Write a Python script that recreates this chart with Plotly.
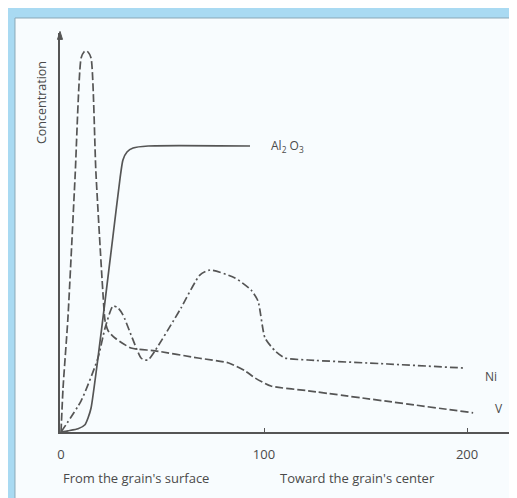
import plotly.graph_objects as go

# ---- data (x = depth, y = relative concentration) ----
v_x = [0, 1.0, 3.4, 6.9, 9.9, 11.3, 12.3, 13.3, 14.8, 17.2, 20.7, 21.7, 23.2, 26.6, 34.5, 46.3, 67.5, 82.3, 90.6, 95.6, 103.4, 121.7, 203]
v_y = [0, 11, 28.5, 63.5, 93.5, 95, 95.3, 95, 93.5, 64.8, 34.3, 27.8, 25.3, 23.5, 21, 20.3, 18.5, 17.3, 15.3, 13.5, 11.5, 10.3, 4.8]

al_x = [0, 3.4, 8.4, 11.8, 13.3, 14.8, 18.2, 21.7, 25.6, 29.1, 30.5, 32.5, 35.5, 42.9, 93.1]
al_y = [0, 0.3, 0.8, 1.8, 3.5, 6, 18.5, 32.8, 49, 63.5, 68, 70, 71, 71.5, 71.5]

ni_x = [0, 9.9, 18.2, 21.7, 25.6, 28.1, 30.5, 39.4, 41.4, 42.9, 46.3, 56.2, 59.1, 68.5, 73.4, 85.7, 93.6, 97, 100.5, 105.4, 110.3, 121.7, 161, 198]
ni_y = [0, 7.8, 18.5, 26, 31.5, 31, 29.3, 18.5, 18, 18, 20.3, 28.5, 31, 39.3, 40.5, 38.5, 35.5, 32.8, 23.5, 20.3, 18.5, 18, 17, 16]

tick_vals = [0, 100, 200]
tick_text = ["0", "100", "200"]

series_labels = ["Al<sub>2</sub> O<sub>3</sub>", "Ni", "V"]
label_x = [111.8, 211.8, 215.8]
label_y = [71.5, 14, 6]

LINE = "#555555"
TEXT = "#4a4a4a"
FONT = "Open Sans"

fig = go.Figure()
fig.add_trace(go.Scatter(x=al_x, y=al_y, mode="lines", name="Al2O3",
                         line=dict(color=LINE, width=1.7, shape="spline", smoothing=0.6)))
fig.add_trace(go.Scatter(x=v_x, y=v_y, mode="lines", name="V",
                         line=dict(color=LINE, width=1.7, dash="8px,3px", shape="spline", smoothing=0.6)))
fig.add_trace(go.Scatter(x=ni_x, y=ni_y, mode="lines", name="Ni",
                         line=dict(color=LINE, width=1.7, dash="8px,3px,2px,3px", shape="spline", smoothing=0.6)))

annotations = []
for t, lx, ly in zip(series_labels, label_x, label_y):
    annotations.append(dict(x=lx, y=ly, xref="x", yref="y", text=t, showarrow=False,
                            xanchor="center", yanchor="middle",
                            font=dict(family=FONT, size=12, color=TEXT)))

annotations += [
    dict(x=-0.0415, y=0.827, xref="paper", yref="paper", text="Concentration", textangle=-90,
         xanchor="center", yanchor="middle",
         showarrow=False, font=dict(family=FONT, size=12.5, color=TEXT)),
    dict(x=0.002, y=-0.115, xref="paper", yref="paper", text="From the grain's surface",
         xanchor="left", yanchor="middle", showarrow=False, font=dict(family=FONT, size=13, color=TEXT)),
    dict(x=0.476, y=-0.115, xref="paper", yref="paper", text="Toward the grain's center",
         xanchor="left", yanchor="middle", showarrow=False, font=dict(family=FONT, size=13, color=TEXT)),
]

shapes = [
    dict(type="rect", xref="paper", yref="paper", x0=-0.0983, x1=1.02, y0=-0.19, y1=1.0376,
         fillcolor="#f8fcfe", line=dict(color="#8aa8b8", width=1), layer="below"),
    # small arrow heads at the axis ends
    dict(type="path", xref="paper", yref="paper",
         path="M -0.0055,0.984 L 0,1.004 L 0.0055,0.984 Z",
         fillcolor=LINE, line=dict(color=LINE, width=1)),
    dict(type="path", xref="paper", yref="paper",
         path="M 0.985,-0.0065 L 1.004,0 L 0.985,0.0065 Z",
         fillcolor=LINE, line=dict(color=LINE, width=1)),
]

fig.update_layout(
    width=517, height=498,
    margin=dict(l=52, r=7, t=25, b=74),
    paper_bgcolor="#a9daf2",
    plot_bgcolor="rgba(0,0,0,0)",
    showlegend=False,
    annotations=annotations,
    shapes=shapes,
    xaxis=dict(range=[-0.5, 225.1], showgrid=False, zeroline=False, showline=True,
               linecolor=LINE, linewidth=1.5, tickvals=tick_vals, ticktext=tick_text,
               ticks="inside", ticklen=4, tickcolor=LINE, ticklabelstandoff=10,
               tickfont=dict(family=FONT, size=13, color=TEXT)),
    yaxis=dict(range=[0, 99.75], showgrid=False, zeroline=False, showline=True,
               linecolor=LINE, linewidth=1.5, showticklabels=False, ticks=""),
)

fig.write_html("out.html")
